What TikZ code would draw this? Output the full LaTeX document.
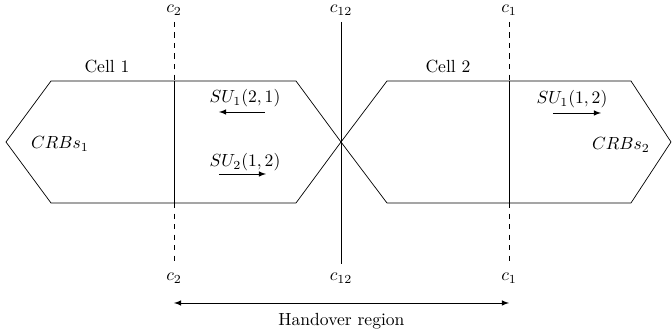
\documentclass[tikz,border=0pt]{standalone}
\usepackage{tikz}
\usetikzlibrary{positioning, arrows.meta}

\begin{document}
\begin{tikzpicture}[>=latex, line width=0.4pt]
  \useasboundingbox (-68.2mm,-37.8mm) rectangle (66.2mm,28.4mm);
  \draw (-67mm,0mm) -- (-58mm,12.2mm) -- (-9mm,12.2mm) -- (0mm,0mm) -- (-9mm,-12.2mm) -- (-58mm,-12.2mm) -- cycle;
  \draw (0mm,0mm) -- (9.2mm,12.2mm) -- (58mm,12.2mm) -- (66mm,0mm) -- (58mm,-12.2mm) -- (9.2mm,-12.2mm) -- cycle;
  \node (cellA) at (-46.8mm,15mm) {Cell 1};
  \node (cellB) at (21.4mm,15mm) {Cell 2};
  \node (crbsA) at (-56.2mm,-0.4mm) {$CRBs_1$};
  \node (crbsB) at (56mm,-0.6mm) {$CRBs_2$};
  \node[anchor=base] (ctwoT) at (-33.4mm,25.8mm) {$c_2$};
  \node[anchor=base] (ctwelveT) at (0mm,25.8mm) {$c_{12}$};
  \node[anchor=base] (coneT) at (33.6mm,25.8mm) {$c_1$};
  \node[anchor=base] (ctwoB) at (-33.4mm,-27.8mm) {$c_2$};
  \node[anchor=base] (ctwelveB) at (0mm,-27.8mm) {$c_{12}$};
  \node[anchor=base] (coneB) at (33.6mm,-27.8mm) {$c_1$};
  \coordinate (ctwoHi) at (-33.4mm,12.2mm);
  \coordinate (ctwoLo) at (-33.4mm,-12.2mm);
  \coordinate (coneHi) at (33.6mm,12.2mm);
  \coordinate (coneLo) at (33.6mm,-12.2mm);
  \draw[dashed] (ctwoT) -- (ctwoHi);
  \draw (ctwoHi) -- (ctwoLo);
  \draw[dashed, shorten >=0.7mm] (ctwoLo) -- (ctwoB);
  \draw[shorten >=0.7mm] (ctwelveT) -- (ctwelveB);
  \draw[dashed] (coneT) -- (coneHi);
  \draw (coneHi) -- (coneLo);
  \draw[dashed, shorten >=0.7mm] (coneLo) -- (coneB);
  \node (suOneLeft) at (-19.2mm,8.8mm) {$SU_1(2,1)$};
  \node (suTwoRight) at (-19.2mm,-4mm) {$SU_2(1,2)$};
  \node (suOneRight) at (46.2mm,8.6mm) {$SU_1(1,2)$};
  \coordinate (suOneLeftA) at (-15.2mm,6mm);
  \coordinate (suOneLeftB) at (-24.4mm,6mm);
  \coordinate (suTwoRightA) at (-24.4mm,-6.4mm);
  \coordinate (suTwoRightB) at (-15mm,-6.4mm);
  \coordinate (suOneRightA) at (42.4mm,5.8mm);
  \coordinate (suOneRightB) at (52mm,5.8mm);
  \draw[->] (suOneLeftA) -- (suOneLeftB);
  \draw[->] (suTwoRightA) -- (suTwoRightB);
  \draw[->] (suOneRightA) -- (suOneRightB);
  \coordinate (hoL) at (-33.4mm,-32.2mm);
  \coordinate (hoR) at (33.6mm,-32.2mm);
  \draw[<->] (hoL) -- (hoR) node[midway, below=0.8mm] (horegion) {Handover region};
\end{tikzpicture}
\end{document}
